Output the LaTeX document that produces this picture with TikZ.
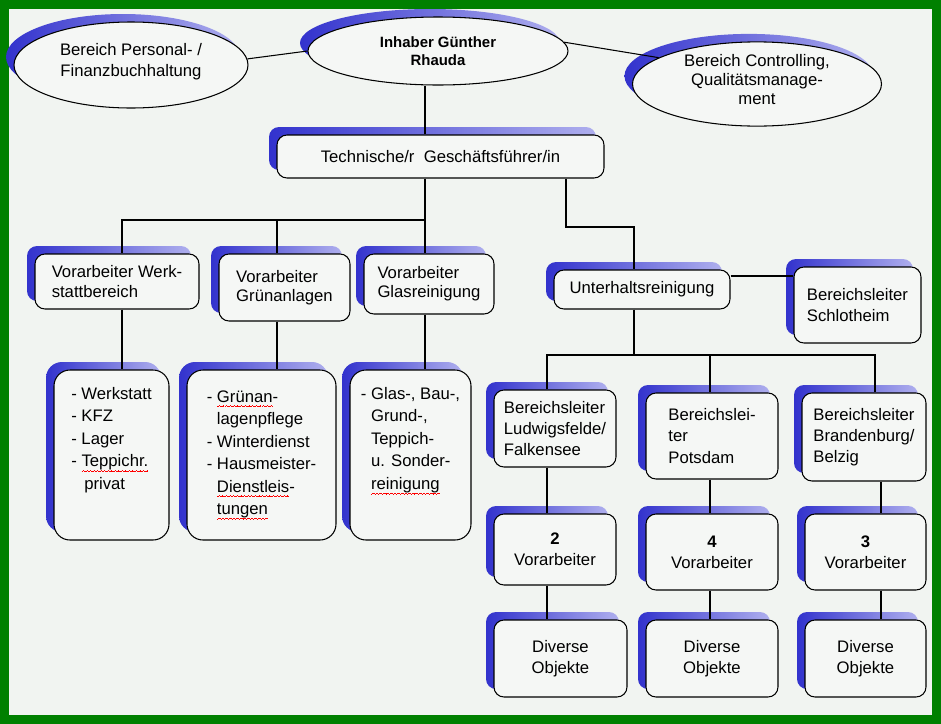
\documentclass[tikz,border=0pt]{standalone}
\usepackage{fontspec}
\setmainfont{Liberation Sans}
\usetikzlibrary{shapes.geometric, shadows}
\definecolor{framegreen}{RGB}{0,128,0}
\definecolor{paper}{RGB}{241,244,241}
\definecolor{boxfill}{RGB}{245,247,245}
\definecolor{shadeblue}{RGB}{50,50,205}
\definecolor{shadelight}{RGB}{175,175,238}
% red wavy line of the spell checker
\newcommand{\wavebit}{\hbox{\rule[-2.9pt]{0.5pt}{0.4pt}\rule[-2.6pt]{0.5pt}{0.4pt}%
  \rule[-2.3pt]{0.5pt}{0.4pt}\rule[-2.6pt]{0.5pt}{0.4pt}}}
\newcommand{\spell}[1]{\leavevmode\setbox0\hbox{#1}%
  \rlap{\textcolor{red}{\hbox to \wd0{\xleaders\wavebit\hfill}}}\box0}
\newcommand{\pushup}[1]{\rule[-#1]{0pt}{#1}}

\begin{document}
\begin{tikzpicture}[x=0.02cm, y=-0.02cm, font=\fontsize{9.5}{12}\selectfont,
  sz/.style 2 args={minimum width=#1*0.02cm, minimum height=#2*0.02cm},
  blueshadow/.style={general shadow={shadow xshift=-0.16cm, shadow yshift=0.16cm,
      left color=shadeblue, right color=shadelight}},
  box/.style={draw, line width=0.6pt, fill=boxfill, rounded corners=0.2cm,
    inner sep=0pt, align=center, blueshadow},
  oval/.style={ellipse, draw, line width=0.6pt, fill=boxfill, inner sep=0pt,
    align=center, blueshadow},
  headbox/.style={box, align=left, font=\fontsize{9.5}{11}\selectfont},
  listbox/.style={box, align=left, rounded corners=0.32cm,
    font=\fontsize{9.5}{12.8}\selectfont},
  link/.style={line width=0.6pt}]

  % frame
  \fill[framegreen] (0,0) rectangle (941,724);
  \fill[paper] (9,9) rectangle (932,715);

  % top
  \node[oval, sz={234}{86}] (pers) at (131,65) {Bereich Personal- /\\Finanzbuchhaltung\pushup{6pt}};
  \node[oval, sz={260}{68}, font=\fontsize{8.5}{10.3}\selectfont\bfseries] (inh) at (438,51) {Inhaber Günther\\Rhauda};
  \node[oval, sz={249}{82}, font=\fontsize{9.5}{11}\selectfont] (ctrl) at (757,84) {Bereich Controlling,\\Qualitätsmanage-\\ment\pushup{5pt}};
  \node[box, sz={327}{43}] (tech) at (440.5,156.5) {Technische/r\ \ Geschäftsführer/in};

  % left branch
  \node[headbox, sz={164}{55}] (werk) at (117,281.5) {Vorarbeiter Werk-\\stattbereich};
  \node[headbox, sz={131}{67}] (gruen) at (284.5,287.5) {Vorarbeiter\\Grünanlagen};
  \node[headbox, sz={130}{60}] (glas) at (429,284) {Vorarbeiter\\Glasreinigung};

  \node[listbox, sz={115}{170}] (wlist) at (111.5,455)
    {- Werkstatt\\- KFZ\\- Lager\\- \spell{Teppichr.}\\\hspace{7.4pt}privat\pushup{19pt}};
  \node[listbox, sz={149}{170}] (glist) at (261.5,455)
    {- \spell{Grünan}-\\\phantom{- }lagenpflege\\- Winterdienst\\- Hausmeister-\\\phantom{- }\spell{Dienstleis}-\\\phantom{- }\spell{tungen}};
  \node[listbox, sz={121}{170}] (galist) at (410.5,455)
    {- Glas-, Bau-,\\\phantom{- }Grund-,\\\phantom{- }Teppich-\\\phantom{- }u. Sonder-\\\phantom{- }\spell{reinigung}\pushup{19pt}};

  % right branch
  \node[box, sz={176}{39}] (unter) at (642,289.5) {Unterhaltsreinigung};
  \node[box, align=left, sz={127}{76}] (schl) at (857.5,305) {Bereichsleiter\\Schlotheim};

  \node[box, align=left, sz={122}{77}] (lud) at (555,428.5) {Bereichsleiter\\Ludwigsfelde/\\Falkensee};
  \node[box, align=left, sz={132}{86}] (pots) at (712,436) {Bereichslei-\\ter\\Potsdam};
  \node[box, align=left, sz={124}{88}] (brand) at (864,437) {Bereichsleiter\\Brandenburg/\\Belzig};

  \node[box, sz={122}{71}] (vor2) at (555,549.5) {\textbf{2}\\Vorarbeiter};
  \node[box, sz={132}{76}] (vor4) at (712,552) {\textbf{4}\\Vorarbeiter};
  \node[box, sz={121}{76}] (vor3) at (865.5,552) {\textbf{3}\\Vorarbeiter};

  \node[box, sz={133}{77}] (div1) at (560.5,658.5) {Diverse\\Objekte};
  \node[box, sz={132}{77}] (div2) at (712,658.5) {Diverse\\Objekte};
  \node[box, sz={121}{77}] (div3) at (865.5,658.5) {Diverse\\Objekte};

  % bus points
  \coordinate (colA) at (122,220);
  \coordinate (colB) at (277,220);
  \coordinate (colC) at (425,220);
  \coordinate (colD) at (566,227);
  \coordinate (colE) at (634,227);
  \coordinate (colF) at (547,355);
  \coordinate (colG) at (634,355);
  \coordinate (colH) at (710,355);
  \coordinate (colI) at (875,355);
  \coordinate (colJ) at (881,0);
  \coordinate (rowS) at (0,276);

  % connectors
  \draw[link] (pers.3) -- (inh.west);
  \draw[link] (inh.4) -- (ctrl.165);
  \draw[link] (inh.south -| colC) -- (tech.north -| colC);
  \draw[link] (tech.south -| colC) -- (glas.north -| colC);
  \draw[link] (colC) -| (werk.north -| colA);
  \draw[link] (colB) -- (gruen.north -| colB);
  \draw[link] (tech.south -| colD) |- (colE) -- (unter.north -| colE);
  \draw[link] (unter.east |- rowS) -- (schl.west |- rowS);
  \draw[link] (unter.south -| colG) -- (colG);
  \draw[link] (lud.north -| colF) |- (colI) -- (brand.north -| colI);
  \draw[link] (colH) -- (pots.north -| colH);

  \draw[link] (werk.south -| colA) -- (wlist.north -| colA);
  \draw[link] (gruen.south -| colB) -- (glist.north -| colB);
  \draw[link] (glas.south -| colC) -- (galist.north -| colC);

  \draw[link] (lud.south -| colF) -- (vor2.north -| colF);
  \draw[link] (vor2.south -| colF) -- (div1.north -| colF);
  \draw[link] (pots.south -| colH) -- (vor4.north -| colH);
  \draw[link] (vor4.south -| colH) -- (div2.north -| colH);
  \draw[link] (brand.south -| colJ) -- (vor3.north -| colJ);
  \draw[link] (vor3.south -| colJ) -- (div3.north -| colJ);
\end{tikzpicture}
\end{document}
